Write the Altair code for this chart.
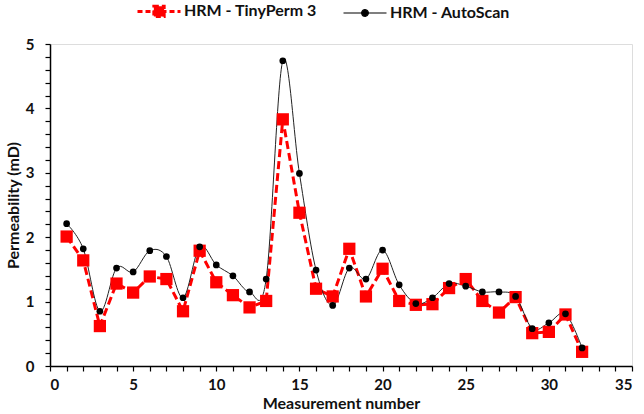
import altair as alt
import pandas as pd

TP = "HRM - TinyPerm 3"
AS = "HRM - AutoScan"

measurement = list(range(1, 33))
tinyperm = [2.01, 1.64, 0.62, 1.28, 1.14, 1.39, 1.35, 0.85, 1.79, 1.30,
            1.10, 0.91, 1.01, 3.83, 2.38, 1.20, 1.08, 1.82, 1.08, 1.51,
            1.01, 0.95, 0.96, 1.21, 1.35, 1.01, 0.83, 1.07, 0.51, 0.53,
            0.80, 0.22]
autoscan = [2.21, 1.82, 0.85, 1.52, 1.46, 1.79, 1.70, 1.06, 1.85, 1.57,
            1.40, 1.15, 1.35, 4.74, 2.99, 1.49, 0.94, 1.52, 1.35, 1.80,
            1.26, 0.97, 1.06, 1.28, 1.24, 1.15, 1.15, 1.08, 0.58, 0.67,
            0.81, 0.28]

x_ticks = list(range(0, 36))
y_ticks = [round(i * 0.2, 1) for i in range(26)]

df = pd.DataFrame(
    {"n": measurement * 2,
     "perm": tinyperm + autoscan,
     "series": [TP] * len(tinyperm) + [AS] * len(autoscan)}
)

FONT = "Lato"

x_enc = alt.X(
    "n:Q",
    scale=alt.Scale(domain=[0, 35], nice=False, zero=False),
    axis=alt.Axis(
        title="Measurement number", values=x_ticks,
        labelExpr="datum.value % 5 == 0 ? datum.label : ''",
        labelOverlap=False, grid=False, tickSize=5, tickColor="#000",
        domainColor="#000", domainWidth=1.5, tickWidth=1.2,
        labelFont=FONT, labelFontSize=15, labelFontWeight="bold", labelColor="#111",
        labelPadding=6, titleFont=FONT, titleFontSize=16, titleFontWeight="bold",
        titleColor="#111", titlePadding=3,
    ),
)
y_enc = alt.Y(
    "perm:Q",
    scale=alt.Scale(domain=[0, 5], nice=False),
    axis=alt.Axis(
        title="Permeability (mD)", values=y_ticks,
        labelExpr="abs(datum.value - round(datum.value)) < 0.001 ? format(datum.value, 'd') : ''",
        labelOverlap=False, grid=False, tickSize=5, tickColor="#000",
        domainColor="#000", domainWidth=1.5, tickWidth=1.2,
        labelFont=FONT, labelFontSize=15, labelFontWeight="bold", labelColor="#111",
        labelPadding=11, titleFont=FONT, titleFontSize=16, titleFontWeight="bold",
        titleColor="#111", titlePadding=3.5,
    ),
)

base = alt.Chart(df).encode(x=x_enc, y=y_enc)

sq_path = "M-1,0H1M-0.24,-0.24H0.24V0.24H-0.24Z"
ci_path = "M-1,0H1M-0.155,0A0.155,0.155,0,1,1,0.155,0A0.155,0.155,0,1,1,-0.155,0Z"
is_tp = f"datum.value === '{TP}'"

legend = alt.Legend(
    title=None, orient="none", legendX=101, legendY=-41, direction="horizontal",
    padding=0, columnPadding=24, labelOffset=17,
    symbolSize=1849,
    symbolType=alt.ExprRef(expr=f"{is_tp} ? '{sq_path}' : '{ci_path}'"),
    symbolStrokeWidth=alt.ExprRef(expr=f"{is_tp} ? 3 : 1.2"),
    symbolDash=alt.ExprRef(expr=f"{is_tp} ? [5, 3] : [1, 0]"),
    symbolStrokeColor=alt.ExprRef(expr=f"{is_tp} ? '#ff0000' : '#000000'"),
    symbolFillColor=alt.ExprRef(expr=f"{is_tp} ? '#ff0000' : '#000000'"),
    symbolOpacity=1,
    labelFont=FONT, labelFontSize=16, labelFontWeight="bold", labelColor="#111",
)
color_enc = alt.Color(
    "series:N",
    scale=alt.Scale(domain=[TP, AS], range=["#ff0000", "#000000"]),
    legend=legend,
)

red_line = base.transform_filter(alt.datum.series == TP).mark_line(
    color="#ff0000", strokeWidth=3, strokeDash=[8, 4]
)
black_line = base.transform_filter(alt.datum.series == AS).mark_line(
    color="#222222", strokeWidth=1, interpolate="cardinal"
)
red_pts = base.transform_filter(alt.datum.series == TP).mark_square(
    size=150, opacity=1
).encode(color=color_enc)
black_pts = base.transform_filter(alt.datum.series == AS).mark_circle(
    size=45, opacity=1
).encode(color=color_enc)

chart = alt.layer(red_line, black_line, red_pts, black_pts).properties(
    width=582, height=322,
    autosize=alt.AutoSizeParams(type="none"),
    padding={"left": 50, "top": 44, "right": 12, "bottom": 48},
).configure_view(stroke=None).configure(background="white")

chart.save("out.html", embed_options={"renderer": "svg", "actions": False})
